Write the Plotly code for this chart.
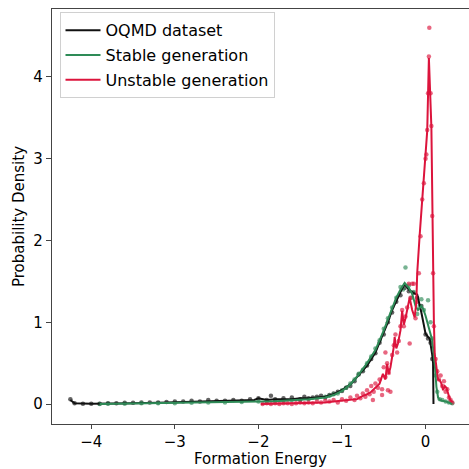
import plotly.graph_objects as go

# ---- line data (smoothed densities) ----
oqmd_x = [-4.25,-4.2,-4.0,-3.8,-3.5,-3.2,-3.0,-2.8,-2.5,-2.2,-2.05,-2.0,-1.9,-1.8,-1.6,-1.5,-1.4,-1.3,-1.2,-1.1,-1.0,-0.9,-0.8,-0.7,-0.6,-0.5,-0.45,-0.4,-0.35,-0.3,-0.25,-0.2,-0.15,-0.1,-0.05,0.0,0.03,0.05,0.08,0.09,0.095]
oqmd_y = [0.05,0.01,0.005,0.005,0.01,0.015,0.02,0.025,0.03,0.04,0.05,0.07,0.05,0.06,0.06,0.07,0.07,0.08,0.09,0.12,0.17,0.24,0.35,0.47,0.63,0.88,1.0,1.15,1.27,1.37,1.47,1.4,1.36,1.34,1.12,0.86,0.82,0.8,0.6,0.5,0.0]

stable_x = [-3.9,-3.5,-3.0,-2.5,-2.0,-1.8,-1.6,-1.4,-1.2,-1.1,-1.0,-0.9,-0.8,-0.7,-0.6,-0.5,-0.4,-0.35,-0.3,-0.25,-0.2,-0.16,-0.12,-0.09,-0.05,-0.03,0.0,0.03,0.06,0.08,0.11,0.13,0.15,0.17,0.2,0.25,0.3,0.32]
stable_y = [0.0,0.005,0.01,0.02,0.03,0.035,0.045,0.06,0.08,0.11,0.16,0.24,0.36,0.5,0.66,0.9,1.17,1.3,1.4,1.48,1.42,1.35,1.2,1.15,1.2,1.17,1.08,0.97,0.85,0.78,0.49,0.21,0.08,0.05,0.04,0.03,0.01,0.0]

unstable_x = [-1.97,-1.8,-1.6,-1.4,-1.2,-1.1,-1.0,-0.9,-0.82,-0.75,-0.7,-0.65,-0.6,-0.55,-0.51,-0.48,-0.46,-0.44,-0.42,-0.4,-0.38,-0.37,-0.35,-0.33,-0.3,-0.28,-0.26,-0.24,-0.22,-0.19,-0.16,-0.13,-0.11,-0.1,-0.07,-0.03,0.0,0.02,0.03,0.04,0.07,0.08,0.09,0.1,0.11,0.13,0.15,0.17,0.19,0.21,0.23,0.25,0.27,0.29,0.32]
unstable_y = [0.0,0.005,0.01,0.01,0.02,0.03,0.04,0.05,0.06,0.1,0.12,0.15,0.2,0.25,0.37,0.3,0.49,0.37,0.45,0.57,0.7,0.82,0.68,0.74,0.9,1.14,0.97,1.05,1.14,1.3,1.15,1.06,1.25,1.6,2.07,2.65,3.0,3.34,3.78,4.23,3.38,2.32,1.59,1.0,0.61,0.45,0.3,0.29,0.25,0.17,0.22,0.2,0.12,0.06,0.02]

# ---- raw histogram points ----
oqmd_dot_x = [-4.25,-4.2,-4.1,-4.0,-3.9,-3.8,-3.7,-3.6,-3.5,-3.4,-3.3,-3.2,-3.1,-3.0,-2.9,-2.8,-2.7,-2.6,-2.5,-2.4,-2.3,-2.2,-2.1,-2.0,-1.9,-1.85,-1.8,-1.7,-1.6,-1.5,-1.45,-1.4,-1.35,-1.3,-1.25,-1.2,-1.15,-1.1,-1.05,-1.0,-0.95,-0.9,-0.85,-0.8,-0.75,-0.7,-0.65,-0.6,-0.55,-0.5,-0.45,-0.4,-0.35,-0.3,-0.25,-0.2,-0.15,-0.1,-0.05,0.0,0.03,0.06,0.08]
oqmd_dot_y = [0.06,0.01,0.005,0.005,0.005,0.01,0.01,0.015,0.015,0.02,0.02,0.02,0.025,0.03,0.03,0.04,0.03,0.05,0.04,0.04,0.05,0.04,0.06,0.07,0.05,0.1,0.06,0.07,0.08,0.06,0.09,0.07,0.08,0.09,0.1,0.08,0.11,0.13,0.15,0.16,0.2,0.22,0.28,0.36,0.4,0.47,0.55,0.62,0.75,0.85,1.0,1.12,1.25,1.33,1.42,1.38,1.36,1.3,1.2,0.85,0.8,0.75,0.55]

stable_dot_x = [-3.9,-3.8,-3.6,-3.4,-3.2,-3.0,-2.8,-2.6,-2.4,-2.2,-2.0,-1.9,-1.8,-1.7,-1.6,-1.5,-1.4,-1.3,-1.2,-1.15,-1.1,-1.05,-1.0,-0.95,-0.9,-0.85,-0.8,-0.75,-0.7,-0.65,-0.6,-0.55,-0.5,-0.45,-0.4,-0.35,-0.3,-0.27,-0.24,-0.2,-0.17,-0.14,-0.1,-0.07,-0.05,-0.02,0.03,0.06,0.08,0.1,0.12,0.14,0.17,0.2,0.24,0.28,0.32]
stable_dot_y = [0.0,0.005,0.005,0.01,0.01,0.01,0.015,0.02,0.02,0.025,0.03,0.03,0.04,0.04,0.05,0.05,0.06,0.07,0.09,0.1,0.12,0.13,0.17,0.2,0.25,0.3,0.37,0.42,0.5,0.58,0.68,0.78,0.92,1.05,1.18,1.3,1.43,1.4,1.67,1.45,1.3,1.37,1.1,1.2,1.28,1.15,1.27,1.0,0.8,0.6,0.35,0.15,0.06,0.05,0.03,0.02,0.01]

unstable_dot_x = [-1.95,-1.9,-1.85,-1.8,-1.75,-1.7,-1.65,-1.6,-1.55,-1.5,-1.45,-1.4,-1.35,-1.3,-1.25,-1.2,-1.15,-1.1,-1.05,-1.0,-0.95,-0.9,-0.85,-0.82,-0.78,-0.75,-0.72,-0.7,-0.67,-0.65,-0.63,-0.62,-0.6,-0.57,-0.55,-0.52,-0.52,-0.5,-0.48,-0.48,-0.46,-0.45,-0.44,-0.42,-0.4,-0.38,-0.36,-0.34,-0.32,-0.3,-0.28,-0.26,-0.24,-0.22,-0.2,-0.19,-0.18,-0.16,-0.14,-0.12,-0.1,-0.08,-0.06,-0.04,-0.02,0.0,0.01,0.02,0.03,0.04,0.045,0.06,0.07,0.08,0.09,0.1,0.12,0.14,0.16,0.18,0.2,0.22,0.24,0.26,0.28,0.3,0.32]
unstable_dot_y = [0.0,0.01,0.0,0.01,0.0,0.01,0.01,0.0,0.01,0.02,0.01,0.02,0.01,0.03,0.02,0.04,0.03,0.05,0.02,0.06,0.04,0.08,0.05,0.1,0.07,0.13,0.09,0.17,0.12,0.22,0.05,0.15,0.25,0.2,0.3,0.18,0.11,0.45,0.33,0.63,0.5,0.17,0.38,0.15,0.6,0.72,0.85,0.63,0.77,0.95,1.15,0.95,1.07,1.18,1.47,0.74,1.3,1.47,1.47,1.05,1.25,1.6,2.05,2.5,2.7,3.0,3.05,3.35,3.8,4.25,4.6,3.8,3.4,2.3,1.6,0.95,0.55,0.4,0.3,0.35,0.22,0.28,0.15,0.18,0.08,0.05,0.02]

BLACK = "#111111"
GREEN = "#2e8b57"
RED = "#dc143c"

fig = go.Figure()

def add_dots(x, y, color):
    fig.add_trace(go.Scatter(x=x, y=y, mode="markers", showlegend=False,
                             marker=dict(color=color, size=4.5, opacity=0.65, line=dict(width=0)),
                             hoverinfo="skip"))

add_dots(oqmd_dot_x, oqmd_dot_y, BLACK)
add_dots(stable_dot_x, stable_dot_y, GREEN)
add_dots(unstable_dot_x, unstable_dot_y, RED)

fig.add_trace(go.Scatter(x=oqmd_x, y=oqmd_y, mode="lines", name="OQMD dataset",
                         legendgroup="a", line=dict(color=BLACK, width=2)))
fig.add_trace(go.Scatter(x=stable_x, y=stable_y, mode="lines", name="Stable generation",
                         legendgroup="b", line=dict(color=GREEN, width=2)))
fig.add_trace(go.Scatter(x=unstable_x, y=unstable_y, mode="lines", name="Unstable generation",
                         legendgroup="c", line=dict(color=RED, width=2)))

font_family = "DejaVu Sans"
fig.update_layout(
    width=469, height=469,
    margin=dict(l=52, r=0, t=9, b=45),
    paper_bgcolor="white", plot_bgcolor="white",
    font=dict(family=font_family, size=15, color="black"),
    showlegend=True,
    legend=dict(x=0.018, y=0.992, xanchor="left", yanchor="top",
                bgcolor="rgba(255,255,255,0.9)", bordercolor="#d0d0d0", borderwidth=1,
                font=dict(size=16), tracegroupgap=1, itemwidth=35),
    xaxis=dict(range=[-4.47, 0.52], tickvals=[-4, -3, -2, -1, 0],
               ticktext=["\u22124", "\u22123", "\u22122", "\u22121", "0"],
               showgrid=False, zeroline=False, showline=True, mirror=True, automargin=False,
               linecolor="#444", linewidth=1.2, ticks="outside", ticklen=4, tickcolor="#444"),
    yaxis=dict(range=[-0.244, 4.83], tickvals=[0, 1, 2, 3, 4],
               showgrid=False, zeroline=False, showline=True, mirror=True, automargin=False,
               linecolor="#444", linewidth=1.2, ticks="outside", ticklen=5, tickcolor="#444",
               title=dict(text="Probability Density", standoff=5, font=dict(size=15))),
    annotations=[dict(text="Formation Energy", x=0.5, xref="paper", y=0, yref="paper",
                      xanchor="center", yanchor="top", yshift=-25, showarrow=False,
                      borderpad=0, font=dict(size=15, family=font_family, color="black"))],
)

fig.write_html("out.html", config={"displayModeBar": False},
               post_script="document.body.style.margin='0';document.body.style.overflow='hidden';")
